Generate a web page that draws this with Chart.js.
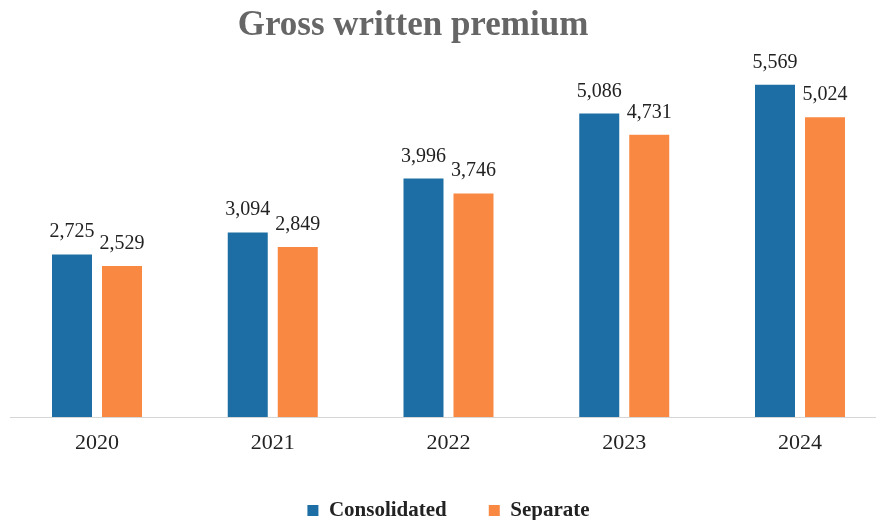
<!DOCTYPE html>
<html>
<head>
<meta charset="utf-8">
<script src="https://cdn.jsdelivr.net/npm/chart.js@4"></script>
<style>
  html, body { margin: 0; padding: 0; background: #fff; overflow: hidden; }
  #wrap { width: 876px; height: 520px; }
</style>
</head>
<body>
<div id="wrap"><canvas id="premium"></canvas></div>
<script>
const years = ['2020', '2021', '2022', '2023', '2024'];
const consolidated = [2725, 3094, 3996, 5086, 5569];
const separate = [2529, 2849, 3746, 4731, 5024];

const serif = '"Liberation Serif", "Times New Roman", serif';

// value labels above each bar
const barValues = {
  id: 'barValues',
  afterDatasetsDraw(chart) {
    const ctx = chart.ctx;
    ctx.save();
    ctx.font = '20px ' + serif;
    ctx.fillStyle = '#222';
    ctx.textAlign = 'center';
    ctx.textBaseline = 'alphabetic';
    chart.data.datasets.forEach((ds, i) => {
      chart.getDatasetMeta(i).data.forEach((bar, j) => {
        ctx.fillText(ds.data[j].toLocaleString('en-US'), bar.x, bar.y - 17);
      });
    });
    ctx.restore();
  }
};

// thin baseline across the whole width
const baseline = {
  id: 'baseline',
  beforeDatasetsDraw(chart) {
    const ctx = chart.ctx;
    const y = Math.round(chart.scales.y.getPixelForValue(0)) + 0.5;
    ctx.save();
    ctx.strokeStyle = '#d6d6d6';
    ctx.lineWidth = 1;
    ctx.beginPath();
    ctx.moveTo(10, y);
    ctx.lineTo(chart.width, y);
    ctx.stroke();
    ctx.restore();
  }
};

new Chart(document.getElementById('premium'), {
  type: 'bar',
  data: {
    labels: years,
    datasets: [
      { label: 'Consolidated', data: consolidated, backgroundColor: '#1c6ea4' },
      { label: 'Separate', data: separate, backgroundColor: '#f98843' }
    ]
  },
  options: {
    responsive: true,
    maintainAspectRatio: false,
    animation: false,
    clip: false,
    categoryPercentage: 0.569,
    barPercentage: 0.8,
    layout: { padding: { top: 3, right: 50, bottom: -11, left: 0 } },
    plugins: {
      title: {
        display: true,
        text: 'Gross written premium',
        color: '#666',
        font: { family: serif, size: 35, weight: 'bold' },
        padding: { top: 2, bottom: 12 }
      },
      legend: {
        position: 'bottom',
        fullSize: false,
        labels: {
          color: '#222',
          boxWidth: 11,
          boxHeight: 11,
          padding: 42,
          font: { family: serif, size: 21, weight: 'bold' }
        }
      },
      tooltip: { enabled: false }
    },
    scales: {
      x: {
        offset: false,
        grid: { display: false, drawTicks: false },
        border: { display: false },
        ticks: { color: '#222', padding: 13, font: { family: serif, size: 22 } },
        afterFit(scale) { scale.height = 41; }
      },
      y: {
        min: 0,
        max: 6000,
        grid: { display: false, drawTicks: false },
        border: { display: false },
        ticks: { display: false },
        afterFit(scale) { scale.width = 97; }
      },
      y2: {
        position: 'right',
        grid: { display: false, drawTicks: false },
        border: { display: false },
        ticks: { display: false },
        afterFit(scale) { scale.width = 26; }
      }
    }
  },
  plugins: [baseline, barValues]
});
</script>
</body>
</html>
